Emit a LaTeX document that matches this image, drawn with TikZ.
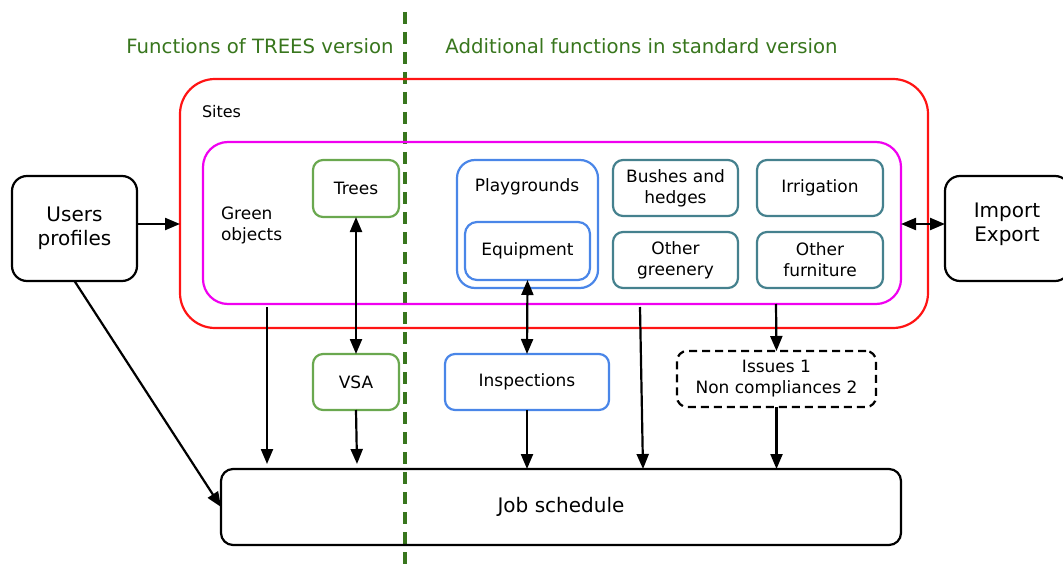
\documentclass[tikz,border=0pt]{standalone}
\usepackage{fontspec}
\setmainfont{DejaVu Sans}
\usetikzlibrary{arrows.meta}
\definecolor{cred}{RGB}{255,20,20}
\definecolor{cmag}{RGB}{240,0,240}
\definecolor{cgreen}{RGB}{106,168,79}
\definecolor{cblue}{RGB}{74,134,232}
\definecolor{cteal}{RGB}{69,129,142}
\definecolor{cdgreen}{RGB}{56,118,29}
\tikzset{
  every node/.style={outer sep=0pt, inner sep=0pt, align=center},
  box/.style={draw, rounded corners=10pt, line width=2.2pt},
  txt/.style={font=\fontsize{17}{21}\selectfont},
  bigtxt/.style={font=\fontsize{20}{24}\selectfont},
  arr/.style={line width=2.2pt, -{Triangle[length=15pt,width=12pt]}},
  darr/.style={line width=2.2pt, {Triangle[length=15pt,width=12pt]}-{Triangle[length=15pt,width=12pt]}},
}
\begin{document}
\begin{tikzpicture}[x=1pt,y=-1pt]
\useasboundingbox (0,0) rectangle (1063,567);
% divider
\draw[cdgreen, line width=3.2pt, dash pattern=on 12pt off 8pt] (405,12) coordinate (dtop) -- (405,567) coordinate (dbot);
% titles
\node[text=cdgreen, font=\fontsize{19.7}{23}\selectfont] (t1) at (260,46) {Functions of TREES version};
\node[text=cdgreen, font=\fontsize{19.7}{23}\selectfont] (t2) at (641.5,46) {Additional functions in standard version};
% sites
\node[box, draw=cred, rounded corners=35pt, minimum width=748, minimum height=249] (red) at (554,203.5) {};
\node[txt, font=\fontsize{16}{20}\selectfont, anchor=west] (sites) at (202,112) {Sites};
\node[box, draw=cmag, rounded corners=25pt, minimum width=698, minimum height=162] (mag) at (552,223) {};
\node[txt, align=left, anchor=west] (green) at (221,225) {Green\\objects};
% users / import
\node[box, rounded corners=15pt, minimum width=125, minimum height=105, bigtxt] (users) at (74.5,228.5) {Users\\profiles};
\node[box, rounded corners=15pt, minimum width=125, minimum height=105] (imp) at (1007.5,228.5) {};
\node[bigtxt] (imptxt) at (1007,224.5) {Import\\Export};
% green objects boxes
\node[box, draw=cgreen, minimum width=86, minimum height=57, txt] (trees) at (356,188.5) {Trees};
\node[box, draw=cblue, rounded corners=18pt, minimum width=141, minimum height=128] (play) at (527.5,224) {};
\node[txt] (playtxt) at (527,187) {Playgrounds};
\node[box, draw=cblue, rounded corners=12pt, minimum width=125, minimum height=58, txt] (equip) at (527.5,251) {Equipment};
\node[box, draw=cteal, minimum width=125, minimum height=56, txt] (bush) at (675.5,188) {Bushes and\\hedges};
\node[box, draw=cteal, minimum width=126, minimum height=56, txt] (irr) at (820,188) {Irrigation};
\node[box, draw=cteal, minimum width=125, minimum height=56, txt] (ogr) at (675.5,260) {Other\\greenery};
\node[box, draw=cteal, minimum width=126, minimum height=56, txt] (ofu) at (820,260) {Other\\furniture};
% middle row
\node[box, draw=cgreen, minimum width=86, minimum height=56, txt] (vsa) at (356,382) {VSA};
\node[box, draw=cblue, minimum width=164, minimum height=56, txt] (insp) at (527,382) {Inspections};
\node[box, dash pattern=on 8pt off 5pt, minimum width=199, minimum height=56, txt] (iss) at (776.5,379) {Issues 1\\Non compliances 2};
% job schedule
\node[box, rounded corners=12pt, minimum width=680, minimum height=76, bigtxt] (job) at (561,507) {Job schedule};
% connectors
\draw[arr] (users.east |- 0,224) -- (red.west |- 0,224);
\draw[arr] (users.south) -- (job.west);
\draw[darr] (mag.east |- 0,224) -- (imp.west |- 0,224);
\draw[arr] ([yshift=-3pt]mag.south -| 267,0) -- ([yshift=5pt]job.north -| 267,0);
\draw[darr] (trees.south) -- (vsa.north);
\draw[arr] (vsa.south) -- ([yshift=5pt]job.north -| 357,0);
\draw[darr] (equip.south) -- (insp.north);
\draw[arr] (insp.south) -- (job.north -| 527,0);
\draw[arr] ([yshift=-3pt]mag.south -| 640,0) -- (job.north -| 643,0);
\draw[arr] (mag.south -| 776,0) -- (iss.north);
\draw[arr] (iss.south) -- (job.north -| 776.5,0);
\end{tikzpicture}
\end{document}
